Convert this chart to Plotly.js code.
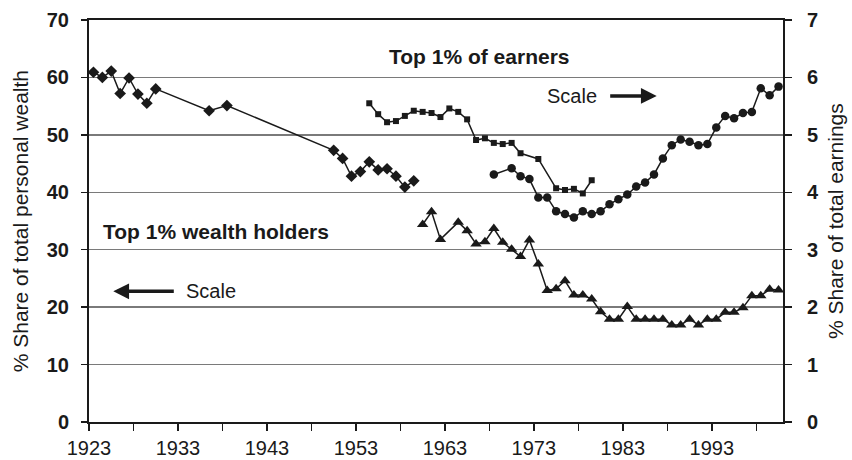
<!DOCTYPE html>
<html>
<head>
<meta charset="utf-8">
<script src="https://cdn.plot.ly/plotly-3.0.1.min.js"></script>
<style>
  html, body { margin: 0; padding: 0; background: #fff; }
  #chart { width: 852px; height: 460px; }
</style>
</head>
<body>
<div id="chart"></div>
<script>
/* Top 1% shares: wealth (left scale, %) and earnings (right scale, %) */

// wealth holders, early series (diamonds)
const wealthEarlyYears = [1923, 1924, 1925, 1926, 1927, 1928, 1929, 1930, 1936, 1938,
  1950, 1951, 1952, 1953, 1954, 1955, 1956, 1957, 1958, 1959];
const wealthEarly = [60.9, 60.0, 61.1, 57.2, 59.9, 57.1, 55.5, 58.0, 54.2, 55.1,
  47.3, 45.9, 42.8, 43.6, 45.3, 43.9, 44.1, 42.8, 40.9, 42.0];

// wealth holders, later series (triangles)
const wealthLateYears = [1960, 1961, 1962, 1964, 1965, 1966, 1967, 1968, 1969, 1970,
  1971, 1972, 1973, 1974, 1975, 1976, 1977, 1978, 1979, 1980,
  1981, 1982, 1983, 1984, 1985, 1986, 1987, 1988, 1989, 1990,
  1991, 1992, 1993, 1994, 1995, 1996, 1997, 1998, 1999, 2000];
const wealthLate = [34.4, 36.6, 31.8, 34.8, 33.3, 31.0, 31.4, 33.7, 31.3, 30.1,
  28.8, 31.7, 27.5, 22.9, 23.2, 24.6, 22.1, 22.1, 21.4, 19.2,
  17.9, 17.9, 20.1, 17.9, 17.9, 17.9, 17.9, 16.9, 16.9, 17.9,
  16.9, 17.9, 17.9, 19.1, 19.1, 19.9, 22.0, 22.0, 23.1, 23.0];

// earners, early series (squares)
const earnEarlyYears = [1954, 1955, 1956, 1957, 1958, 1959, 1960, 1961, 1962, 1963,
  1964, 1965, 1966, 1967, 1968, 1969, 1970, 1971, 1973, 1975,
  1976, 1977, 1978, 1979];
const earnEarly = [5.55, 5.36, 5.22, 5.24, 5.33, 5.42, 5.40, 5.38, 5.31, 5.46,
  5.40, 5.27, 4.91, 4.94, 4.86, 4.84, 4.86, 4.68, 4.58, 4.07,
  4.04, 4.06, 3.98, 4.21];

// earners, later series (circles)
const earnLateYears = [1968, 1970, 1971, 1972, 1973, 1974, 1975, 1976, 1977, 1978,
  1979, 1980, 1981, 1982, 1983, 1984, 1985, 1986, 1987, 1988,
  1989, 1990, 1991, 1992, 1993, 1994, 1995, 1996, 1997, 1998,
  1999, 2000];
const earnLate = [4.31, 4.42, 4.28, 4.23, 3.91, 3.91, 3.67, 3.62, 3.56, 3.67,
  3.62, 3.67, 3.79, 3.88, 3.96, 4.10, 4.17, 4.31, 4.59, 4.82,
  4.92, 4.88, 4.82, 4.84, 5.13, 5.33, 5.29, 5.38, 5.40, 5.81,
  5.69, 5.84];

// x tick labels (every 10 years, unlabeled tick between)
const tickYears = [1923, 1928, 1933, 1938, 1943, 1948, 1953, 1958, 1963, 1968,
  1973, 1978, 1983, 1988, 1993, 1998];
const tickLabels = tickYears.map(y => ((y - 1923) % 10 === 0 ? String(y) : ''));

const FONT = 'Liberation Sans, Arial, sans-serif';
const INK = '#1a1a1a';

function series(x, y, axis, symbol, size) {
  return {
    x, y, yaxis: axis, type: 'scatter', mode: 'lines+markers',
    line: { color: INK, width: 1.5 },
    marker: { symbol, size, color: INK },
    hoverinfo: 'x+y', showlegend: false
  };
}

const traces = [
  series(wealthEarlyYears, wealthEarly, 'y', 'diamond', 9),
  series(wealthLateYears, wealthLate, 'y', 'triangle-up', 10),
  series(earnEarlyYears, earnEarly, 'y2', 'square', 6),
  series(earnLateYears, earnLate, 'y2', 'circle', 8.5)
];

const arrowStyle = { showarrow: true, arrowhead: 2, arrowsize: 0.9, arrowwidth: 3.5, arrowcolor: INK, text: '' };
const note = { xref: 'paper', yref: 'paper', xanchor: 'center', yanchor: 'middle', showarrow: false };

const layout = {
  width: 852, height: 460,
  margin: { l: 89, r: 69, t: 20, b: 38 },
  paper_bgcolor: '#fff', plot_bgcolor: '#fff',
  font: { family: FONT, color: INK, size: 20 },
  xaxis: {
    range: [1922.5, 2000.5],
    tickvals: tickYears.map(y => y - 0.5), ticktext: tickLabels,
    ticks: 'outside', ticklen: 7, tickwidth: 1.5, tickcolor: INK,
    ticklabelstandoff: 0,
    showline: true, linecolor: INK, linewidth: 2, mirror: true,
    showgrid: false, zeroline: false,
    tickfont: { family: FONT, size: 20, color: INK }
  },
  yaxis: {
    range: [0, 70], dtick: 10,
    ticks: 'outside', ticklen: 6, tickwidth: 1.5, tickcolor: INK,
    ticklabelstandoff: 8,
    showline: true, linecolor: INK, linewidth: 2,
    showgrid: true, gridcolor: '#7a7a7a', gridwidth: 1.5, zeroline: false,
    tickfont: { family: FONT, size: 20, color: INK, weight: 'bold' }
  },
  yaxis2: {
    range: [0, 7], dtick: 1, overlaying: 'y', side: 'right',
    ticks: 'outside', ticklen: 7, tickwidth: 1.5, tickcolor: INK,
    ticklabelstandoff: 11,
    showline: true, linecolor: INK, linewidth: 2,
    showgrid: false, zeroline: false,
    tickfont: { family: FONT, size: 20, color: INK, weight: 'bold' }
  },
  annotations: [
    { ...note, x: -0.099, y: 0.5, textangle: -90, text: '% Share of total personal wealth', font: { size: 21 } },
    { ...note, x: 1.075, y: 0.5, textangle: -90, text: '% Share of total earnings', font: { size: 21 } },
    { ...note, x: 0.562, y: 0.908, text: '<b>Top 1% of earners</b>', font: { size: 21 } },
    { ...note, x: 0.696, y: 0.811, text: 'Scale' },
    { ...arrowStyle, xref: 'paper', yref: 'paper', x: 0.818, y: 0.811, ax: -48, ay: 0 },
    { ...note, x: 0.1826, y: 0.475, text: '<b>Top 1% wealth holders</b>', font: { size: 21 } },
    { ...note, x: 0.1765, y: 0.326, text: 'Scale' },
    { ...arrowStyle, xref: 'paper', yref: 'paper', x: 0.035, y: 0.325, ax: 62, ay: 0 }
  ]
};

Plotly.newPlot('chart', traces, layout, { displayModeBar: false, staticPlot: true });
</script>
</body>
</html>
